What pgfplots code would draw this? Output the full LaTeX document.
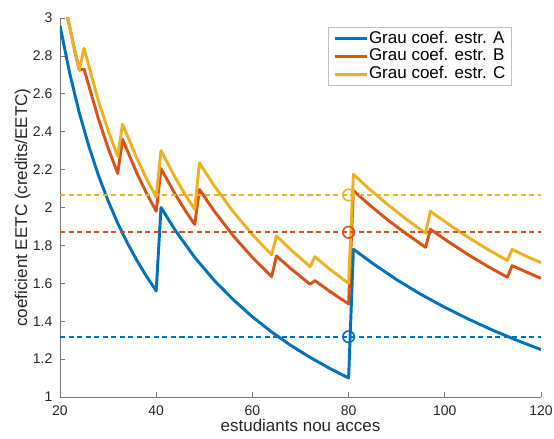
\documentclass[border=0pt]{standalone}
\usepackage{fontspec}
\setmainfont{Liberation Sans}
\usepackage{pgfplots}
\pgfplotsset{compat=1.18}

\definecolor{cA}{rgb}{0,0.447,0.741}
\definecolor{cB}{rgb}{0.85,0.325,0.098}
\definecolor{cC}{rgb}{0.929,0.694,0.125}
\definecolor{axgray}{rgb}{0.15,0.15,0.15}

\begin{document}
\begin{tikzpicture}
\useasboundingbox (-45pt,-31.5pt) rectangle (370.5pt,297.75pt);
\begin{axis}[
    at={(0,0)}, anchor=south west,
    scale only axis,
    width=360.75pt, height=284.25pt,
    xmin=20, xmax=120, ymin=1, ymax=3,
    axis x line*=bottom, axis y line*=left,
    axis line style={-, draw=black!55, line width=0.5pt},
    tick style={draw=black!55, line width=0.5pt},
    tick align=inside,
    major tick length=3.75pt,
    xtick={20,40,60,80,100,120},
    ytick={1,1.2,1.4,1.6,1.8,2,2.2,2.4,2.6,2.8,3},
    /pgf/number format/assume math mode=true,
    ticklabel style={font=\fontsize{10.5}{12}\selectfont, text=axgray},
    xticklabel style={inner xsep=0pt, inner ysep=6pt},
    yticklabel style={inner ysep=0pt, inner xsep=5.5pt},
    xlabel={estudiants nou acces},
    ylabel={coeficient EETC (credits/EETC)},
    label style={font=\fontsize{12.75}{14}\selectfont, text=axgray, inner sep=0pt},
    xlabel style={at={(axis description cs:0.5,-0.0923)}, anchor=base},
    ylabel style={at={(axis description cs:-0.0686,0.5)}, anchor=base},
    legend style={
        at={(0.938,0.976)}, anchor=north east,
        draw=black!25, fill=white, line width=0.5pt,
        font=\fontsize{12.75}{13.5}\selectfont,
        inner xsep=3.5pt, inner ysep=2pt, row sep=0pt,
        nodes={inner sep=0.6pt, text height=9.3pt, text depth=2.7pt, text=black},
    },
    legend cell align=left,
    legend image code/.code={\draw[#1, line width=2.2pt] (0pt,0pt) -- (24pt,0pt);},
    every axis plot/.append style={line join=round},
]
% Grau coef. estr. A
\addplot[cA, line width=2.2pt] coordinates {
 (20,2.960) (22,2.710) (24,2.501) (26,2.323) (28,2.169) (30,2.035)
 (32,1.917) (34,1.813) (36,1.720) (38,1.636) (40,1.560)
 (41,2.000) (44,1.878) (48,1.737) (52,1.617) (56,1.514) (60,1.423)
 (64,1.343) (68,1.272) (72,1.209) (76,1.152) (80,1.100)
 (81,1.780) (85,1.705) (90,1.619) (95,1.542) (100,1.473) (105,1.410)
 (110,1.352) (115,1.299) (120,1.250)
};
% Grau coef. estr. B
\addplot[cB, line width=2.2pt] coordinates {
 (20,3.200) (21,3.070) (22,2.955) (23,2.835) (24,2.725)
 (25,2.730) (28,2.467) (30,2.314) (32,2.180)
 (33,2.360) (36,2.180) (38,2.075) (40,1.980)
 (41,2.205) (44,2.068) (46,1.986) (48,1.910)
 (49,2.095) (52,1.983) (56,1.851) (60,1.736) (64,1.635)
 (65,1.744) (68,1.677) (72,1.595)
 (73,1.614) (76,1.559) (80,1.491)
 (81,2.089) (84,2.021) (88,1.937) (92,1.861) (96,1.790)
 (97,1.885) (101,1.815) (105,1.749) (109,1.688) (113,1.632)
 (114,1.693) (117,1.659) (120,1.626)
};
% Grau coef. estr. C
\addplot[cC, line width=2.2pt] coordinates {
 (20,3.200) (21,3.070) (22,2.955) (23,2.835) (24,2.725)
 (25,2.840) (28,2.562) (30,2.407) (32,2.270)
 (33,2.440) (36,2.258) (38,2.151) (40,2.055)
 (41,2.300) (44,2.156) (46,2.069) (48,1.990)
 (49,2.235) (52,2.117) (56,1.978) (60,1.857) (64,1.750)
 (65,1.850) (68,1.777) (72,1.688)
 (73,1.740) (76,1.676) (80,1.600)
 (81,2.175) (84,2.104) (88,2.018) (92,1.938) (96,1.864)
 (97,1.980) (101,1.908) (105,1.840) (109,1.778) (113,1.720)
 (114,1.779) (117,1.742) (120,1.709)
};
\legend{Grau coef. estr. A, Grau coef. estr. B, Grau coef. estr. C}
% reference levels
\addplot[cA, line width=1.5pt, dash pattern=on 3.8pt off 2.6pt, forget plot] coordinates {(20,1.318) (120,1.318)};
\addplot[cB, line width=1.5pt, dash pattern=on 3.8pt off 2.6pt, forget plot] coordinates {(20,1.869) (120,1.869)};
\addplot[cC, line width=1.5pt, dash pattern=on 3.8pt off 2.6pt, forget plot] coordinates {(20,2.066) (120,2.066)};
\addplot[cA, only marks, mark=o, mark size=4.3pt, line width=1.2pt, forget plot] coordinates {(80,1.318)};
\addplot[cB, only marks, mark=o, mark size=4.3pt, line width=1.2pt, forget plot] coordinates {(80,1.869)};
\addplot[cC, only marks, mark=o, mark size=4.3pt, line width=1.2pt, forget plot] coordinates {(80,2.066)};
\end{axis}
\end{tikzpicture}
\end{document}
